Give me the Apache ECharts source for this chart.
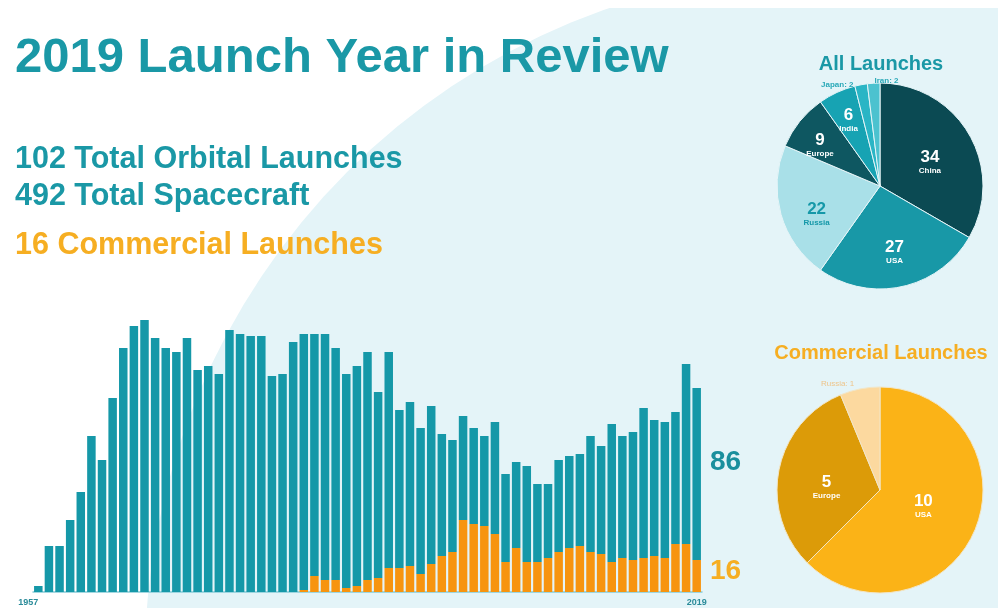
<!DOCTYPE html>
<html>
<head>
<meta charset="utf-8">
<title>2019 Launch Year in Review</title>
<script src="https://cdn.jsdelivr.net/npm/echarts@6/dist/echarts.min.js"></script>
<style>
  html, body { margin: 0; padding: 0; background: #ffffff; }
  #chart { width: 998px; height: 608px; }
</style>
</head>
<body>
<div id="chart"></div>
<script>
// Orbital launches per year, 1957-2019
const years = [
  '1957','1958','1959','1960','1961','1962','1963','1964','1965','1966',
  '1967','1968','1969','1970','1971','1972','1973','1974','1975','1976',
  '1977','1978','1979','1980','1981','1982','1983','1984','1985','1986',
  '1987','1988','1989','1990','1991','1992','1993','1994','1995','1996',
  '1997','1998','1999','2000','2001','2002','2003','2004','2005','2006',
  '2007','2008','2009','2010','2011','2012','2013','2014','2015','2016',
  '2017','2018','2019'
];
const totalLaunches = [
  3, 23, 23, 36, 50, 78, 66, 97, 122, 133,
  136, 127, 122, 120, 127, 111, 113, 109, 131, 129,
  128, 128, 108, 109, 125, 129, 129, 129, 122, 109,
  113, 120, 100, 120, 91, 95, 82, 93, 79, 76,
  88, 82, 78, 85, 59, 65, 63, 54, 54, 66,
  68, 69, 78, 73, 84, 78, 80, 92, 86, 85,
  90, 114, 102
];
const commercialLaunches = [
  0, 0, 0, 0, 0, 0, 0, 0, 0, 0,
  0, 0, 0, 0, 0, 0, 0, 0, 0, 0,
  0, 0, 0, 0, 0, 1, 8, 6, 6, 2,
  3, 6, 7, 12, 12, 13, 9, 14, 18, 20,
  36, 34, 33, 29, 15, 22, 15, 15, 17, 20,
  22, 23, 20, 19, 15, 17, 16, 17, 18, 17,
  24, 24, 16
];

// 2019 launches by country
const allNames = ['China', 'USA', 'Russia', 'Europe', 'India', 'Japan', 'Iran'];
const allValues = [34, 27, 22, 9, 6, 2, 2];

// 2019 commercial launches by country
const commNames = ['USA', 'Europe', 'Russia'];
const commValues = [10, 5, 1];

// Headline figures
const headline = {
  orbital: 102,
  spacecraft: 492,
  commercial: 16
};

const TEAL = '#1598a8';
const ORANGE = '#f7940f';
const AMBER = '#f6ae22';
const FONT = '"Liberation Sans", Arial, sans-serif';

const allColors = ['#0b4a53', '#1898a7', '#a9e0e8', '#0e5761', '#17a3b3', '#2ab5c5', '#4cc2cf'];
const commColors = ['#fbb317', '#dc9b08', '#fcd99f'];

const nonCommercial = totalLaunches.map((t, i) => t - commercialLaunches[i]);
const last = years.length - 1;

const chart = echarts.init(document.getElementById('chart'), null, { renderer: 'canvas' });

const richInside = (light) => ({
  v: { fontSize: 17, fontWeight: 'bold', color: light ? '#ffffff' : TEAL, fontFamily: FONT, lineHeight: 17 },
  n: { fontSize: 8, fontWeight: 'bold', color: light ? '#ffffff' : TEAL, fontFamily: FONT, lineHeight: 10 }
});

// Inner labels for the large slices of the all-launches pie
const allLabelData = allNames.map((name, i) => {
  const big = allValues[i] > 2;
  const item = {
    name: name,
    value: allValues[i],
    label: {
      show: big,
      position: 'inside',
      formatter: '{v|{c}}\n{n|{b}}',
      rich: richInside(name !== 'Russia')
    }
  };
  if (name === 'China') item.label.offset = [-9, 10];
  if (name === 'Russia') item.label.offset = [2, 10];
  if (name === 'Europe') item.label.offset = [-7, 2];
  if (name === 'India') item.label.offset = [-3, -4];
  return item;
});

// Slices of the all-launches pie, with outside labels for the smallest ones
const allPieData = allNames.map((name, i) => {
  const small = allValues[i] <= 2;
  const item = {
    name: name,
    value: allValues[i],
    itemStyle: { color: allColors[i] },
    label: {
      show: small,
      position: 'outside',
      formatter: '{b}: {c}',
      fontSize: 8,
      fontWeight: 'bold',
      fontFamily: FONT,
      color: '#2aa9b8'
    },
    labelLine: { show: false, length: 3, length2: 0 }
  };
  if (name === 'Iran') item.label.offset = [30, 1];
  if (name === 'Japan') item.label.offset = [-2, 3];
  return item;
});

const commPieData = commNames.map((name, i) => {
  const outside = commValues[i] <= 1;
  const item = {
    name: name,
    value: commValues[i],
    itemStyle: { color: commColors[i] },
    label: outside ? {
      show: true,
      position: 'outside',
      formatter: '{b}: {c}',
      fontSize: 8,
      fontFamily: FONT,
      color: '#eec48a',
      offset: [0, -2]
    } : {
      show: true,
      position: 'inside',
      formatter: '{v|{c}}\n{n|{b}}',
      rich: richInside(true)
    },
    labelLine: { show: false, length: 3, length2: 0 }
  };
  if (name === 'USA') item.label.offset = [-7, -5];
  if (name === 'Europe') item.label.offset = [0, 8];
  return item;
});

const option = {
  animation: false,
  backgroundColor: '#ffffff',
  graphic: [
    // Pale backdrop disc
    { type: 'circle', shape: { cx: 835, cy: 660, r: 690 }, style: { fill: '#e4f4f8' }, z: -10, silent: true },
    { type: 'rect', shape: { x: 0, y: 0, width: 998, height: 8 }, style: { fill: '#ffffff' }, z: -9, silent: true },
    {
      type: 'text', x: 15, y: 58, z: 5,
      style: { text: years[last] + ' Launch Year in Review', font: 'bold 49px ' + FONT, fill: '#1a98a6', align: 'left', verticalAlign: 'middle' }
    },
    {
      type: 'text', x: 15, y: 160, z: 5,
      style: { text: headline.orbital + ' Total Orbital Launches', font: 'bold 30.5px ' + FONT, fill: '#1a98a6', align: 'left', verticalAlign: 'middle' }
    },
    {
      type: 'text', x: 15, y: 197, z: 5,
      style: { text: headline.spacecraft + ' Total Spacecraft', font: 'bold 30.5px ' + FONT, fill: '#1a98a6', align: 'left', verticalAlign: 'middle' }
    },
    {
      type: 'text', x: 15, y: 246, z: 5,
      style: { text: headline.commercial + ' Commercial Launches', font: 'bold 30.5px ' + FONT, fill: AMBER, align: 'left', verticalAlign: 'middle' }
    },
    {
      type: 'text', x: 881, y: 64, z: 5,
      style: { text: 'All Launches', font: 'bold 20px ' + FONT, fill: '#1a98a6', align: 'center', verticalAlign: 'middle' }
    },
    {
      type: 'text', x: 881, y: 353, z: 5,
      style: { text: 'Commercial Launches', font: 'bold 20px ' + FONT, fill: AMBER, align: 'center', verticalAlign: 'middle' }
    }
  ],
  grid: { left: 33, top: 312, width: 669, height: 280, containLabel: false },
  xAxis: {
    type: 'category',
    data: years,
    boundaryGap: true,
    axisLine: { show: true, lineStyle: { color: '#86cbd7', width: 1.5 } },
    axisTick: { show: false },
    axisLabel: {
      show: true,
      interval: 0,
      formatter: (v, i) => (i === 0 || i === last) ? v : '',
      alignMinLabel: 'right',
      alignMaxLabel: 'center',
      margin: 6,
      fontSize: 9,
      fontWeight: 'bold',
      fontFamily: FONT,
      color: '#2a8b99'
    },
    splitLine: { show: false }
  },
  yAxis: {
    type: 'value',
    min: 0,
    max: 140,
    show: false,
    splitLine: { show: false }
  },
  series: [
    {
      name: 'Commercial',
      type: 'bar',
      stack: 'launches',
      barCategoryGap: '20%',
      itemStyle: { color: ORANGE },
      data: commercialLaunches.map((v, i) => i === last ? {
        value: v,
        label: {
          show: true, position: 'right', distance: 9, offset: [0, -5],
          formatter: '{c}', fontSize: 28, fontWeight: 'bold', fontFamily: FONT, color: AMBER
        }
      } : v)
    },
    {
      name: 'Non-commercial',
      type: 'bar',
      stack: 'launches',
      barCategoryGap: '20%',
      itemStyle: { color: TEAL },
      data: nonCommercial.map((v, i) => i === last ? {
        value: v,
        label: {
          show: true, position: 'right', distance: 9, offset: [0, -12],
          formatter: '{c}', fontSize: 28, fontWeight: 'bold', fontFamily: FONT, color: '#1a8f9d'
        }
      } : v)
    },
    {
      name: 'All Launches',
      type: 'pie',
      center: [880, 186],
      radius: [0, 103],
      startAngle: 90,
      clockwise: true,
      avoidLabelOverlap: false,
      z: 2,
      itemStyle: { borderColor: '#e6f5f8', borderWidth: 1 },
      emphasis: { disabled: true },
      data: allPieData
    },
    {
      name: 'All Launches labels',
      type: 'pie',
      center: [880, 186],
      radius: [0, 130],
      startAngle: 90,
      clockwise: true,
      silent: true,
      z: 3,
      avoidLabelOverlap: false,
      itemStyle: { color: 'rgba(0,0,0,0)', borderWidth: 0 },
      labelLine: { show: false },
      emphasis: { disabled: true },
      data: allLabelData
    },
    {
      name: 'Commercial Launches',
      type: 'pie',
      center: [880, 490],
      radius: [0, 103],
      startAngle: 90,
      clockwise: true,
      avoidLabelOverlap: false,
      itemStyle: { borderColor: '#f2e6c8', borderWidth: 1 },
      emphasis: { disabled: true },
      data: commPieData
    }
  ]
};

chart.setOption(option);
</script>
</body>
</html>
